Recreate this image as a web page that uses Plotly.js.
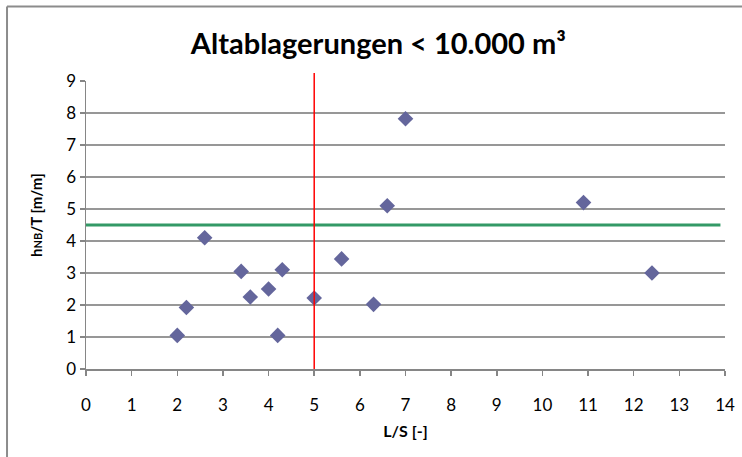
<!DOCTYPE html>
<html>
<head>
<meta charset="utf-8">
<script src="https://cdn.plot.ly/plotly-3.0.1.min.js"></script>
<style>html,body{margin:0;padding:0;background:#fff;}#chart{width:742px;height:457px;}</style>
</head>
<body>
<div id="chart"></div>
<script>
// Data
var lsValues = [2.0, 2.2, 2.6, 3.4, 3.6, 4.0, 4.2, 4.3, 5.0, 5.6, 6.3, 6.6, 7.0, 10.9, 12.4];
var hValues  = [1.05, 1.92, 4.1, 3.05, 2.25, 2.5, 1.05, 3.1, 2.22, 3.44, 2.02, 5.1, 7.82, 5.2, 3.0];
var greenLineX = [0, 13.9];
var greenLineY = [4.5, 4.5];
var redLineX = 5;
var xTicks = [0,1,2,3,4,5,6,7,8,9,10,11,12,13,14];
var yTicks = [0,1,2,3,4,5,6,7,8,9];

var font = 'Lato, "Open Sans", sans-serif';

var traces = [
  {
    x: greenLineX, y: greenLineY, type: 'scatter', mode: 'lines',
    line: {color: '#339966', width: 3}, hoverinfo: 'skip', showlegend: false
  },
  {
    x: lsValues, y: hValues, type: 'scatter', mode: 'markers',
    marker: {symbol: 'diamond', size: 12, color: '#64669c', line: {width: 0}},
    cliponaxis: false, showlegend: false
  }
];

var layout = {
  width: 742, height: 457,
  margin: {l: 86, r: 17, t: 81, b: 88},
  paper_bgcolor: '#ffffff', plot_bgcolor: '#ffffff',
  showlegend: false,
  font: {family: font, color: '#000', size: 17},
  title: {
    text: '<b>Altablagerungen &lt; 10.000 m³</b>',
    font: {family: font, size: 29, color: '#000'},
    x: 0.51, xref: 'container', xanchor: 'center',
    y: 0.905, yref: 'container', yanchor: 'middle'
  },
  xaxis: {
    range: [0, 14], tickvals: xTicks, ticktext: xTicks.map(String),
    showgrid: false, zeroline: false,
    showline: true, linecolor: '#868686', linewidth: 1.5,
    ticks: 'outside', ticklen: 5, tickcolor: '#868686', tickwidth: 1.5,
    ticklabelstandoff: 15,
    tickfont: {family: font, size: 17, color: '#000'},
    title: {text: '<b>L/S [-]</b>', font: {family: font, size: 16, color: '#000'}, standoff: 12},
    fixedrange: true
  },
  yaxis: {
    range: [0, 9], tickvals: yTicks, ticktext: yTicks.map(String),
    showgrid: true, gridcolor: '#979797', gridwidth: 1.6,
    zeroline: false,
    showline: true, linecolor: '#868686', linewidth: 1.5,
    ticks: 'outside', ticklen: 5, tickcolor: '#868686', tickwidth: 1.5,
    tickfont: {family: font, size: 17, color: '#000'},
    fixedrange: true
  },
  annotations: [
    {text: '<b>h<span style="font-size:11px">NB</span>/T [m/m]</b>',
     xref: 'paper', yref: 'paper', x: -0.0782, y: 0.535,
     xanchor: 'center', yanchor: 'middle', textangle: -90, showarrow: false,
     font: {family: font, size: 15, color: '#000'}}
  ],
  shapes: [
    {type: 'line', xref: 'x', yref: 'paper', x0: redLineX, x1: redLineX, y0: 0, y1: 1.028,
     line: {color: '#ff0000', width: 1.5}, layer: 'above'},
    {type: 'line', xref: 'paper', yref: 'paper', x0: -0.1236, x1: 1.04, y0: 1.259, y1: 1.259,
     line: {color: '#8c8c8c', width: 2}},
    {type: 'line', xref: 'paper', yref: 'paper', x0: -0.1236, x1: -0.1236, y0: 1.259, y1: -0.32,
     line: {color: '#8c8c8c', width: 2}}
  ]
};

Plotly.newPlot('chart', traces, layout, {displayModeBar: false, staticPlot: true});
</script>
</body>
</html>
